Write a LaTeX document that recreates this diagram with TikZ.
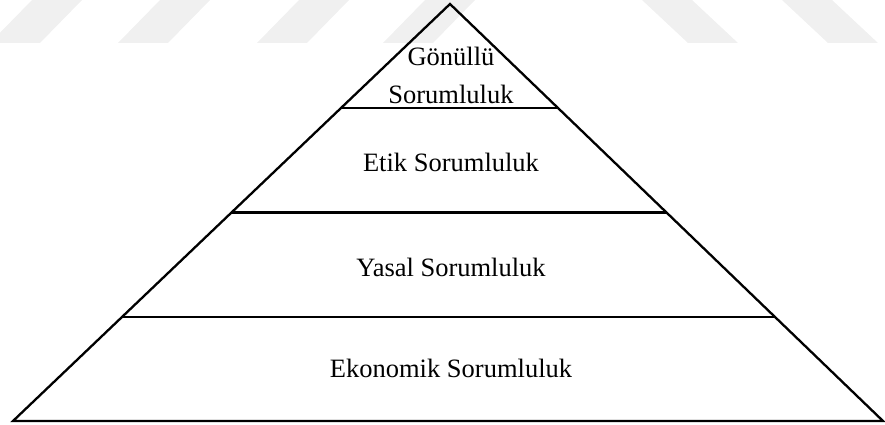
\documentclass[tikz,border=0pt]{standalone}
\usepackage{fontspec}
\setmainfont{Liberation Serif}
\usetikzlibrary{calc}
\begin{document}
\begin{tikzpicture}[x=1pt,y=-1pt,
  edge/.style={line width=2.3pt,line join=miter},
  band/.style={fill=black!6,draw=none},
  label/.style={font=\fontsize{26.5}{30}\selectfont,anchor=base,inner sep=0pt}]
\useasboundingbox (0,0) rectangle (885,425);
% faint diagonal stripes along the top edge
\foreach \b in {-10,118,257,383}
  \fill[band] (\b,43) -- (\b+50,43) -- (\b+92,0) -- (\b+42,0) -- cycle;
\foreach \b in {688,828}
  \fill[band] (\b,43) -- (\b+50,43) -- (\b+4,0) -- (\b-46,0) -- cycle;
% pyramid outline
\coordinate (apex) at (450,4);
\coordinate (bl) at (13,421);
\coordinate (br) at (883,421);
\draw[edge] (apex) -- (bl) -- (br) -- cycle;
% level dividers
\foreach \t/\n in {0.25/a,0.5/b,0.75/c}{
  \coordinate (l\n) at ($(apex)!\t!(bl)$);
  \coordinate (r\n) at ($(apex)!\t!(br)$);
  \draw[edge] (l\n) -- (r\n);
}
% level labels
\node[label] (g1) at (451,66) {Gönüllü};
\node[label] (g2) at (451,103) {Sorumluluk};
\node[label] (etik) at (451,171) {Etik Sorumluluk};
\node[label] (yasal) at (451,276) {Yasal Sorumluluk};
\node[label] (eko) at (451,377) {Ekonomik Sorumluluk};
\end{tikzpicture}
\end{document}
